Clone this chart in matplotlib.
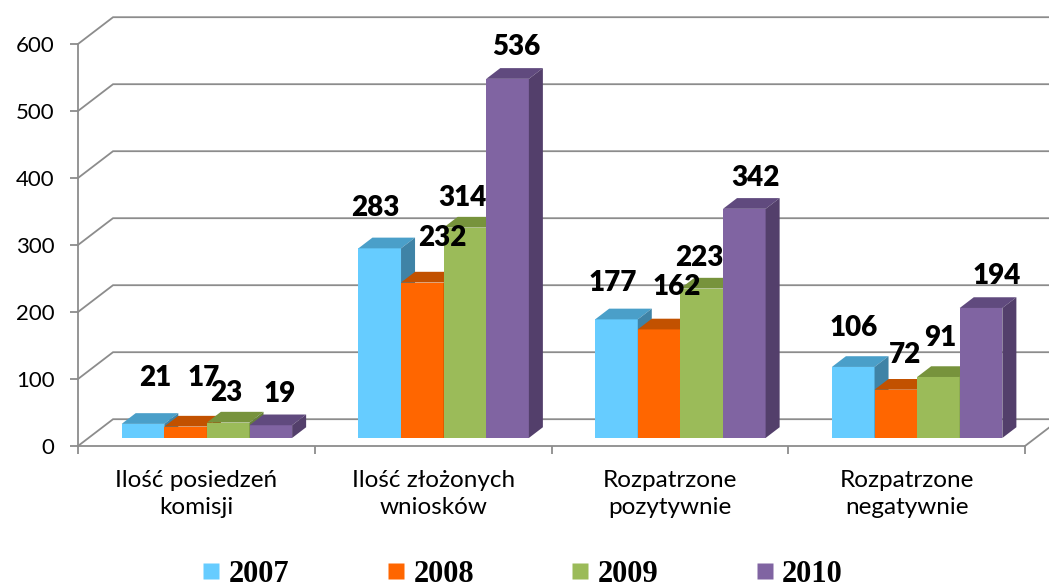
import matplotlib
matplotlib.use('Agg')
import matplotlib.pyplot as plt
from matplotlib.patches import Polygon
from matplotlib.lines import Line2D

# data
categories = ["Ilość posiedzeń\nkomisji", "Ilość złożonych\nwniosków",
              "Rozpatrzone\npozytywnie", "Rozpatrzone\nnegatywnie"]
years = ["2007", "2008", "2009", "2010"]
v2007 = [21, 283, 177, 106]
v2008 = [17, 232, 162, 72]
v2009 = [23, 314, 223, 91]
v2010 = [19, 536, 342, 194]
yticks = [0, 100, 200, 300, 400, 500, 600]

series = [v2007, v2008, v2009, v2010]

# colours: front, top, side of each 3d column
front_c = ['#66CCFF', '#FF6600', '#9BBB59', '#8064A2']
top_c = ['#4A9FC9', '#C25100', '#77933C', '#604A7E']
side_c = ['#3F83A6', '#A84600', '#66803A', '#533F6B']

# where each value label sits relative to its column top (pixels)
nudge = [
    [(12, 46), (-4, 40), (-4, 36), (0, 39)],
    [(18, 49), (20, 45), (18, 42), (9, 35)],
    [(-2, 30), (-2, 30), (-2, 31), (2, 39)],
    [(9, 31), (9, 32), (11, 31), (16, 32)],
]

GRID = '#8C8C8C'
DX, DY = 0.148, 40.0      # full depth of the floor, in data units
F, D = 0.30, 0.40         # column front position and column depth (fraction of DX/DY)
W = 0.18                  # column width
M = (1 - 4 * W) / 2       # gap at each side of a group

fig = plt.figure(figsize=(10.49, 5.87), dpi=100)
ax = fig.add_axes([78 / 1049, 141 / 587, 947 / 1049, 402 / 587])
ax.set_xlim(0, 4)
ax.set_ylim(0, 600)

# back wall gridlines + floor
for y in yticks:
    ax.plot([0, DX, 4 + DX], [y, y + DY, y + DY], color=GRID, lw=1.3,
            clip_on=False, zorder=1, solid_joinstyle='miter')
ax.plot([4, 4 + DX], [0, DY], color=GRID, lw=1.3, clip_on=False, zorder=1)

# columns
for i in range(len(categories)):
    for j, vals in enumerate(series):
        v = vals[i]
        x0 = i + M + j * W + F * DX
        yb = F * DY
        yt = v + F * DY
        ddx, ddy = D * DX, D * DY
        ax.add_patch(Polygon([(x0, yb), (x0 + W, yb), (x0 + W, yt), (x0, yt)],
                             closed=True, fc=front_c[j], ec='none', zorder=3))
        ax.add_patch(Polygon([(x0, yt), (x0 + W, yt), (x0 + W + ddx, yt + ddy), (x0 + ddx, yt + ddy)],
                             closed=True, fc=top_c[j], ec='none', zorder=3))
        ax.add_patch(Polygon([(x0 + W, yb), (x0 + W + ddx, yb + ddy), (x0 + W + ddx, yt + ddy), (x0 + W, yt)],
                             closed=True, fc=side_c[j], ec='none', zorder=3))
        ax.annotate(str(v), xy=(x0 + W / 2, yt), xytext=nudge[j][i], textcoords='offset pixels',
                    ha='center', va='center', fontsize=20, fontweight='heavy',
                    family='Lato', color='black', zorder=5, annotation_clip=False)

# axes styling
for s in ['top', 'right']:
    ax.spines[s].set_visible(False)
for s in ['left', 'bottom']:
    ax.spines[s].set_color(GRID)
    ax.spines[s].set_linewidth(1.3)
    ax.spines[s].set_zorder(2)
ax.set_facecolor('none')
ax.set_yticks(yticks)
ax.set_yticklabels([str(t) for t in yticks], family='Lato', fontsize=16)
ax.tick_params(axis='y', length=6, width=1.3, color=GRID, pad=11)
ax.set_xticks([0, 1, 2, 3, 4])
ax.set_xticklabels([])
ax.tick_params(axis='x', which='major', length=6, width=1.3, color=GRID)
ax.set_xticks([0.5, 1.5, 2.5, 3.5], minor=True)
ax.set_xticklabels(categories, minor=True, family='Lato', fontsize=17.5, linespacing=1.4)
ax.tick_params(axis='x', which='minor', length=0, pad=17)

# legend
handles = [Line2D([], [], marker='s', ls='none', markersize=11.5, markerfacecolor=c,
                  markeredgecolor='none') for c in front_c]
fig.legend(handles, years, loc='center', bbox_to_anchor=(523 / 1049, 13 / 587), ncol=4,
           frameon=False, prop={'family': 'Liberation Serif', 'weight': 'bold', 'size': 22},
           handlelength=0.55, handletextpad=0.3, columnspacing=3.2,
           borderpad=0.0, borderaxespad=0.0)

fig.savefig('out.png', dpi=100)
plt.close(fig)
